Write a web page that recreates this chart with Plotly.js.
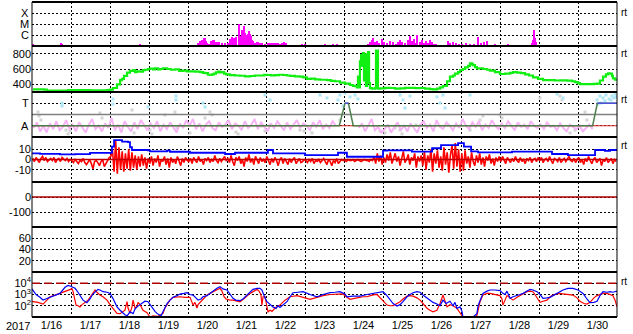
<!DOCTYPE html>
<html><head><meta charset="utf-8">
<script src="https://cdn.plot.ly/plotly-3.0.1.min.js"></script>
<style>html,body{margin:0;padding:0;background:#fff;}#chart{width:633px;height:334px;}</style>
</head><body><div id="chart"></div>
<script>
// time axis: hours since 2017-01-16 00:00 UT
const dayLabelsYear = '2017';

// X-ray flux (W/m2), bars
const xrayClassVals = [1e-6, 1e-5, 1e-4];
const xrayClassText = ['C', 'M', 'X'];
const xrayH = [0.6,17.8,18.5,66.5,102.2,103.4,104.6,105.2,105.8,106.5,107.1,107.7,108.9,110.2,111.4,112.0,113.2,113.8,114.5,115.1,116.9,118.8,120.6,121.8,123.1,124.3,125.5,127.4,128.0,128.6,129.2,129.8,130.5,131.1,131.7,132.3,132.9,133.5,134.2,134.8,135.4,136.0,137.2,138.5,139.1,140.3,141.5,143.4,145.2,146.5,147.7,149.0,150.2,151.4,152.6,153.8,155.1,156.3,166.2,168.0,180.3,185.2,187.7,206.8,208.0,209.2,209.8,211.1,212.3,213.5,215.4,216.6,218.5,220.3,222.2,224.0,225.2,226.5,227.7,229.5,231.4,232.6,233.8,235.1,236.3,236.9,238.8,240.0,241.2,242.5,243.7,244.9,246.2,247.4,248.6,256.0,257.2,259.1,260.9,262.8,264.6,267.1,269.5,272.0,274.5,276.3,278.2,280.0,284.9,292.9,307.7,308.3,308.9,309.5,310.2];
const xrayFlux = [1.3e-7,1.8e-7,1.5e-7,1.3e-7,1.9e-7,2.5e-7,3.6e-7,2.4e-7,5e-7,5.2e-7,2.9e-7,1.9e-7,1.5e-7,2.9e-7,3.1e-7,3.6e-7,2.4e-7,1.5e-7,2.4e-7,2.4e-7,1.8e-7,1.8e-7,1.8e-7,4.5e-7,5.9e-7,5.2e-7,6.9e-7,1.1e-5,4e-7,8.5e-7,3.1e-6,6e-7,7.2e-6,1.5e-6,6.9e-7,9e-7,1.3e-6,2.1e-6,1.2e-6,7.3e-7,3.6e-7,2.5e-7,1.9e-7,2.2e-7,2.0e-7,1.8e-7,1.8e-7,1.5e-7,1.8e-7,1.6e-7,1.6e-7,1.8e-7,1.8e-7,1.7e-7,1.5e-7,1.7e-7,2.4e-7,1.8e-7,1.3e-7,1.3e-7,1.3e-7,1.3e-7,1.3e-7,1.5e-7,2.4e-7,3.6e-7,5.2e-7,2.4e-7,2.9e-7,1.9e-7,4.2e-7,2.4e-7,1.8e-7,2.9e-7,2.4e-7,1.5e-7,2.4e-7,3.6e-7,2.1e-7,1.8e-7,3.6e-7,7.3e-7,2.9e-7,4.0e-7,1.9e-7,1.05e-6,2.4e-7,3.25e-7,1.9e-7,2.9e-7,1.9e-7,3.6e-7,2.4e-7,1.5e-7,1.4e-7,2.5e-7,1.9e-7,2.1e-7,1.8e-7,1.5e-7,1.5e-7,1.8e-7,1.5e-7,1.5e-7,6.4e-7,1.9e-7,2.0e-7,2.5e-7,1.44e-7,1.3e-7,1.9e-7,3.6e-7,3.1e-6,5.2e-7,2.4e-7];

// Solar wind speed (km/s)
const speedH = [0.6,4.9,7.4,9.2,14.2,21.5,22.2,29.5,35.7,41.8,46.2,48.0,49.8,52.3,54.2,55.4,56.6,58.5,60.3,62.2,63.4,64.6,66.5,68.3,69.5,71.4,72.6,74.5,75.7,77.5,78.8,80.6,83.1,85.5,88.0,90.5,92.9,95.4,97.2,100.3,103.4,105.2,106.5,108.3,109.5,110.8,112.0,113.2,114.5,115.7,116.9,118.2,119.4,121.8,124.9,128.0,131.1,134.2,137.2,140.3,142.8,144.6,147.1,149.5,152.0,154.5,156.9,158.8,161.8,164.9,166.8,169.2,171.7,174.2,177.2,181.5,184.0,186.5,189.5,192.6,195.7,197.5,198.8,200.0,200.6,201.2,201.8,202.5,203.1,203.7,204.3,204.9,205.5,206.2,206.8,207.4,208.0,209.2,211.1,211.7,212.3,212.9,214.2,217.2,220.3,223.4,226.5,229.5,232.6,235.7,238.8,241.8,244.9,246.8,249.2,251.1,252.9,255.4,257.2,259.1,260.3,262.2,263.4,265.2,266.5,268.3,269.5,270.8,271.4,272.6,273.8,275.7,277.5,280.0,281.8,284.9,288.0,291.1,294.2,296.0,298.5,300.9,303.4,305.8,308.3,311.4,314.5,317.5,321.8,324.9,329.2,332.3,334.2,336.0,337.2,340.3,343.4,345.8,347.7,349.5,351.4,353.2,354.5,355.7,356.9,357.5,358.8,360.0];
const speedV = [335,335,330,317,318,318,326,324,322,320,326,330,352,400,456,470,510,552,575,587,560,570,565,585,590,600,604,595,610,595,600,610,600,590,595,575,578,570,570,565,560,550,545,525,522,530,540,555,565,555,560,540,530,520,515,512,505,509,515,515,525,522,518,520,525,522,515,510,505,500,490,470,475,465,460,456,445,440,422,410,391,380,375,360,500,360,700,780,640,809,450,790,380,760,820,420,350,345,350,839,839,345,348,355,352,345,348,355,355,350,352,345,338,335,345,360,378,440,500,515,540,560,587,600,620,640,674,660,650,625,609,610,600,590,578,560,535,540,550,560,552,545,530,515,491,470,456,455,450,452,448,440,430,415,404,402,404,406,410,450,500,530,544,540,510,478,460,448];

// IMF sector panel (T = 1, A = -1)
const sectorVals = [1, -1];
const sectorText = ['T', 'A'];
const polH = [0,189.1,192.6,194.7,197.7,345.0,347.9,360];
const polV = [-1,-1,1,1,-1,-1,1,1];
// IMF angle points in away sector, every 2 h
const angleAway = [
 -1.2,-0.7,-1.5,-1.0,-1.6,-0.8,-1.3,-0.6,-1.4,-1.1,-0.5,-1.3,
 -0.9,-1.5,-0.7,-1.2,-1.6,-0.9,-0.4,-1.3,-1.0,-1.5,-0.8,-1.2,
 -0.3,-1.4,-0.9,-1.6,-0.6,-1.1,-1.5,-0.7,-1.3,-0.5,-1.0,-1.4,
 -0.8,-1.2,-0.6,-1.5,-0.9,-1.3,-0.7,-1.1,-1.6,-0.8,-1.2,-0.5,
 -1.0,-0.4,-1.3,-0.8,-1.5,-0.9,-0.6,-1.2,-1.4,-0.7,-1.1,-0.9,
 -0.5,-1.3,-0.8,-1.0,-1.4,-0.6,-1.2,-0.9,-0.4,-1.3,-0.7,-1.1,
 -1.5,-0.8,-1.2,-0.6,-1.0,-1.4,-0.7,-1.3,-0.9,-0.5,-1.2,-0.8,
 -1.0,-1.4,-0.7,-1.1,-0.5,-1.3,-0.9,-1.2,-0.6,-1.0,null,null,
 null,null,null,null,-1.2,-0.8,-1.5,-1.0,-0.4,-1.4,-1.1,-1.6,
 -1.3,-0.9,-1.6,-1.1,-0.7,-1.4,-1.0,-1.5,-0.8,-1.2,-1.6,-0.9,
 -0.6,-1.2,-0.9,-1.5,-0.5,-1.1,-1.3,-0.7,-1.0,-1.4,-0.8,-1.2,
 -0.4,-1.0,-1.3,-0.7,-1.1,-0.6,-1.4,-0.9,-1.2,-0.5,-1.0,-1.3,
 -0.8,-1.2,-0.6,-1.0,-1.4,-0.7,-1.1,-0.9,-1.3,-0.6,-1.0,-1.2,
 -0.9,-1.3,-0.7,-1.1,-1.0,-1.4,-0.8,-1.2,-1.5,-0.9,-1.1,-1.3,
 -1.0,-1.5,-1.2,-0.9,-1.3,null,null,null,null,null,null,null];
const grayH = [3.7,4.3,5.5,20.9,22.2,23.4,41.8,43.1,61.5,62.8,72.6,73.8,81.8,88.0,89.2,97.2,106.5,109.5,110.8,121.8,125.5,126.8,141.5,143.4,146.5,164.9,167.4,172.3,189.5,214.2,217.2,223.4,226.5,227.7,236.3,269.5,275.7,277.5,288.0,289.2,312.6,324.9,326.2,331.1,334.2,340.3,341.5];
const grayV = [0.22,-0.13,-0.49,-1.38,-1.73,-1.47,0.13,-0.31,0.4,-1.64,-1.38,-1.73,-0.04,0.22,-1.2,-1.64,-0.31,0.22,-0.04,-0.93,-1.56,-1.73,-1.02,-1.47,-0.93,-1.38,-1.47,-1.64,-0.49,-1.47,-1.64,-1.2,-1.38,-1.73,-0.93,-1.38,-0.49,-0.13,-0.04,-0.31,1.47,1.64,1.29,-1.64,-1.38,0.22,-0.49];
const towardH = [18.5,18.5,49.8,49.8,71.4,88.6,88.6,105.2,106.5,143.4,146.5,177.2,181.5,188.3,189.5,191.4,192.6,195.7,198.8,200.6,226.5,228.3,229.5,232.6,249.2,251.1,252.9,254.2,269.5,323.1,326.8,347.7,348.3,349.5,350.2,351.4,352.6,353.2,355.1,356.3,356.9,358.2,358.8,359.4];
const towardV = [1.02,0.76,1.38,0.93,0.67,1.64,1.29,1.02,0.67,1.73,1.29,1.73,1.47,1.29,1.73,0.76,1.91,1.56,1.73,1.38,1.73,1.29,0.58,1.64,1.56,1.02,1.73,0.58,1.73,1.82,1.47,1.29,0.93,1.64,1.02,1.47,1.2,1.73,1.38,1.29,1.64,1.47,1.82,1.56];

// IMF Bz hourly (nT)
const bz = [
 1,-2,2,0,-3,1,3,-1,2,-2,0,1,-1,2,-3,0,1,-2,2,0,-1,1,-2,0,
 -1,-3,0,-2,-4,-1,-2,1,-3,-5,-2,0,-4,-9,-2,-1,-3,-6,-2,0,-7,-3,-1,2,
 3,10,-12,18,-14,12,-10,8,-12,6,-9,10,-11,7,-8,4,-10,3,-7,5,-6,2,-9,1,
 -4,3,-6,1,-3,4,-7,0,-2,3,-5,1,-8,2,-3,0,-4,3,-2,-6,1,-3,2,-1,
 -2,1,-4,2,-1,-3,3,-2,0,-5,1,-1,2,-3,0,-2,4,-1,-3,1,-2,0,3,-1,
 1,-3,4,-2,-6,2,-1,3,-4,0,-7,2,-2,5,-3,1,-5,3,-1,-4,2,-2,0,-3,
 3,-2,-5,1,-3,2,-1,-6,0,2,-4,1,-2,-5,1,-3,0,2,-4,-1,1,-3,-2,0,
 -1,-3,0,-2,1,-4,-1,-2,0,-3,-1,1,-2,-5,0,-2,-6,-1,-3,1,-4,-2,0,-1,
 -1,-2,0,-1,-1,0,-2,-1,0,-1,-2,-1,0,-1,-1,-2,0,-1,3,-4,6,-2,4,-5,
 2,-3,5,-1,7,-4,1,6,-2,3,-6,2,8,-3,0,5,-5,2,-1,6,-8,3,-2,4,
 -6,8,-10,4,-3,10,-12,6,-4,9,-8,3,-11,12,-5,7,-13,4,14,-9,16,-7,10,-12,
 6,-11,9,-4,3,-8,7,-2,-6,4,-3,6,-5,2,-7,3,-1,5,-4,1,-6,2,-2,3,
 -2,3,-1,-4,2,0,-3,1,-2,3,-1,-3,2,-2,0,-4,1,-1,2,-3,0,1,-2,2,
 -1,2,-3,0,1,-2,3,-1,-4,1,0,-2,2,-3,-1,1,-2,0,3,-1,-2,1,-3,0,
 2,-3,0,-5,1,-2,3,-1,-4,0,2,-3,-1,1,-6,0,-2,2,-3,-1,1,-4,0,-2];
// IMF Bt (nT)
const btH = [0,4.9,17.2,26.5,35.7,48.0,49.2,50.5,52.9,55.4,59.1,60.3,61.5,71.4,72.6,83.1,84.9,95.4,97.2,115.7,118.8,123.7,124.9,144.0,145.2,147.7,148.3,166.8,168.0,187.7,188.3,191.4,193.8,215.4,216.0,218.5,232.6,233.8,244.9,246.2,251.1,251.7,261.5,262.2,265.2,265.8,269.5,270.2,273.8,274.5,294.2,295.4,318.8,320.0,329.2,329.8,345.2,346.5,352.6,355.7,360];
const btV = [6,5.5,5,5.2,6.5,6.5,12.6,19,19,17.5,17,12,9.3,9,8,8.7,7.6,7.6,6.6,6.6,5.4,5.4,6.6,6.6,9.3,9.3,6,6,4.2,4.2,6.6,6.6,2.7,2.7,8.6,9,9,7.7,7.7,11,11,14,14,16,16,12.5,12.5,8,8,7,7,7.7,7.7,5.4,5.4,4.3,4.3,9.3,8.5,9.3,8.8];

// Electron flux, log10 values
const eBlueH = [0,0.6,2.5,4.9,6.8,9.2,11.1,14.2,17.2,20.3,22.2,23.4,25.2,26.5,28.3,29.5,31.4,33.8,35.7,37.5,39.4,40.6,41.8,43.7,46.2,48.0,49.8,51.1,52.3,54.2,55.4,57.2,58.5,60.3,62.2,63.4,64.6,66.5,68.3,69.5,71.4,72.6,74.5,75.7,76.9,78.8,79.4,80.6,81.8,83.1,84.9,86.8,89.2,91.1,93.5,95.4,97.2,99.1,100.9,102.2,104.0,105.2,107.7,109.5,111.4,113.8,115.7,117.5,120.0,121.8,123.7,125.5,128.0,129.8,132.3,134.2,136.0,138.5,140.3,141.5,142.2,143.4,144.6,146.5,148.3,150.2,151.4,152.6,154.5,156.9,158.8,160.6,163.7,166.8,171.1,175.4,179.1,183.4,186.5,189.5,192.6,193.8,197.5,201.8,206.2,209.8,212.9,216.0,217.8,220.3,222.2,224.6,226.5,228.3,230.8,232.6,234.5,236.9,238.8,240.6,243.1,244.9,246.8,249.2,251.1,252.9,254.8,257.2,259.1,260.3,261.5,263.4,264.6,265.2,268.0,271.4,272.6,273.8,274.5,275.7,277.5,280.0,281.8,284.9,288.0,289.8,291.1,292.3,294.2,296.0,298.5,300.3,302.2,304.6,306.5,308.3,310.8,312.6,314.5,316.9,318.8,320.6,323.1,324.9,326.8,329.8,332.9,336.0,339.1,341.5,343.4,345.8,347.7,349.5,351.4,353.8,355.7,357.5,360.0];
const eBlueLog = [3.5,3.4,3.0,2.75,2.51,2.65,2.75,2.9,3.1,3.64,3.8,3.76,3.65,3.55,3.2,2.95,2.5,2.27,2.6,3.04,3.3,3.46,3.4,3.25,3.2,3.1,2.66,2.3,1.9,1.6,1.4,1.2,1.1,1.46,1.3,1.7,1.9,2.1,2.27,2.4,2.36,2.1,1.77,1.5,1.32,1.2,1.1,1.46,1.9,2.2,2.5,2.75,2.9,3.04,3.1,3.16,3.0,2.95,2.7,2.5,2.6,2.8,2.9,3.1,3.3,3.55,3.7,3.5,3.4,3.0,2.66,2.5,2.45,2.6,2.95,3.2,3.46,3.55,3.55,3.4,3.1,2.7,2.36,2.1,1.9,1.75,2.0,1.85,2.1,2.36,2.8,3.16,3.2,3.25,3.0,2.8,3.0,3.16,3.2,3.25,3.05,2.8,2.85,2.85,3.0,3.1,3.2,3.25,3.0,2.5,2.2,1.97,2.1,2.36,2.8,3.0,3.16,3.25,3.2,2.95,2.7,2.5,2.3,2.15,2.0,2.5,2.2,2.4,2.0,2.3,1.77,1.9,1.5,1.0,null,1.0,1.2,1.3,2.0,2.5,3.1,3.3,3.4,3.4,3.35,3.1,3.0,3.3,2.66,2.8,2.95,3.0,3.1,3.3,3.46,3.4,3.25,3.0,2.66,2.7,2.75,2.9,3.1,3.3,3.4,3.55,3.55,3.4,3.1,2.6,2.27,2.3,2.4,2.9,3.25,3.2,3.25,3.2,3.3];
const eRedH = [0,0.6,3.7,6.8,9.2,11.1,14.2,17.2,20.3,23.4,24.6,25.2,26.5,27.1,28.3,29.5,30.8,32.6,34.5,36.9,38.8,40.0,41.8,43.7,46.2,48.0,49.8,51.1,52.3,54.2,56.0,57.2,58.5,59.1,60.3,61.5,62.2,63.4,64.6,65.2,66.5,68.3,70.8,72.6,74.5,76.9,78.8,80.6,81.8,83.1,84.9,86.8,89.2,91.1,94.2,97.2,98.5,99.1,100.3,101.5,102.2,103.4,105.8,107.7,109.5,111.4,113.8,115.7,116.9,118.2,119.4,120.0,121.8,123.7,126.2,128.0,131.1,134.2,136.6,138.5,139.7,140.9,141.5,142.2,143.4,144.6,145.2,146.5,147.7,149.5,152.6,155.7,158.8,163.1,166.8,171.1,175.4,179.1,183.4,187.7,191.4,193.8,195.7,200.0,203.7,206.2,209.2,212.3,214.2,216.0,217.2,218.5,220.3,222.2,224.6,226.5,228.3,230.8,232.6,234.5,236.9,238.8,240.6,243.1,244.9,246.8,249.2,251.1,252.9,254.2,255.4,257.2,259.1,261.5,263.4,264.6,265.2,269.0,273.2,273.8,274.5,275.7,277.5,280.0,281.8,284.9,288.0,289.2,289.8,291.1,292.3,294.2,296.0,298.5,300.3,302.2,304.6,306.5,308.3,309.5,310.8,312.6,314.5,316.9,318.8,320.6,323.1,324.9,326.8,329.2,331.1,332.9,335.4,337.2,339.7,341.5,343.4,345.8,347.7,349.5,351.4,353.8,355.7,357.5,358.8,360.0];
const eRedLog = [2.4,2.36,2.3,2.15,2.5,2.8,2.95,3.1,3.3,3.46,3.5,3.3,2.6,2.06,2.0,1.9,2.1,2.27,2.5,3.0,3.4,3.2,2.95,2.8,2.5,2.1,1.77,1.5,1.32,1.3,1.46,1.6,2.36,1.8,1.32,1.9,2.5,1.8,1.9,2.3,2.1,1.6,1.38,1.0,1.1,1.05,1.15,1.32,1.8,2.15,2.5,2.75,2.8,2.8,2.75,2.75,2.3,2.06,2.3,1.8,2.1,2.3,2.7,2.95,3.1,3.25,3.4,3.55,3.3,2.8,2.6,2.57,2.5,2.5,2.4,2.35,2.7,3.1,3.3,3.46,3.3,3.0,2.06,2.8,2.8,2.0,1.46,1.6,1.5,1.8,2.06,2.5,2.8,2.9,2.75,2.57,2.75,2.9,3.0,3.0,3.05,2.75,2.57,2.7,2.8,2.8,2.95,3.0,2.7,2.45,2.2,2.06,2.0,2.0,2.2,2.36,2.6,2.87,2.9,2.85,2.7,2.5,2.2,1.77,1.6,1.46,1.6,2.2,2.95,2.4,1.9,2.1,2.0,1.77,1.32,1.1,1.0,null,1.0,1.15,1.6,2.36,2.95,3.1,3.1,3.0,2.9,2.6,2.06,2.5,2.9,2.7,2.5,2.75,2.9,3.1,3.25,3.3,3.25,3.0,2.7,2.3,2.4,2.5,2.8,2.95,3.05,3.1,3.05,3.0,2.95,2.95,2.7,2.4,2.2,2.15,2.3,2.7,2.9,3.0,3.1,3.1,3.0,2.9,2.5,1.9];

const START = Date.UTC(2017,0,16);
function t(h){ const d = new Date(START + Math.round(h*3600000)); return d.toISOString().slice(0,19).replace('T',' '); }
const T = a => a.map(t);
const pow10 = a => a.map(v => v === null ? null : Math.pow(10, v));
const ends = [t(0), t(360)];

const traces = [];
// panel 1: X-ray
traces.push({type:'bar', x:T(xrayH), y:xrayFlux, base:1e-8, width:3600000*1.1, marker:{color:'#ff00ff', line:{width:0}}, xaxis:'x', yaxis:'y'});
// panel 2: speed
traces.push({type:'scatter', mode:'lines', x:T(speedH), y:speedV, line:{color:'#11ee11', width:2.2, shape:'hv'}, xaxis:'x2', yaxis:'y2'});
// panel 3: sector
traces.push({type:'scatter', mode:'markers', x:T(grayH), y:grayV, marker:{color:'#d4d4d4', size:3, symbol:'square'}, xaxis:'x3', yaxis:'y3'});
traces.push({type:'scatter', mode:'lines', x:angleAway.map((v,i)=>t(2*i+1)), y:angleAway, line:{color:'#f6b4f6', width:2}, connectgaps:false, xaxis:'x3', yaxis:'y3'});
traces.push({type:'scatter', mode:'markers', x:T(towardH), y:towardV, marker:{color:'#aee6f6', size:3, symbol:'square'}, xaxis:'x3', yaxis:'y3'});
traces.push({type:'scatter', mode:'lines', x:ends, y:[0,0], line:{color:'#808080', width:1.5}, xaxis:'x3', yaxis:'y3'});
traces.push({type:'scatter', mode:'lines', x:ends, y:[-1,-1], line:{color:'#e02828', width:1}, xaxis:'x3', yaxis:'y3'});
traces.push({type:'scatter', mode:'lines', x:T(polH), y:polV, line:{color:'#4e804e', width:1.5}, xaxis:'x3', yaxis:'y3'});
traces.push({type:'scatter', mode:'lines', x:T(polH), y:polV.map(v => v === 1 ? v : null), line:{color:'#5050e0', width:1.5}, xaxis:'x3', yaxis:'y3'});
// panel 4: Bz, Bt
traces.push({type:'scatter', mode:'lines', x:bz.map((v,i)=>t(i+0.5)), y:bz, line:{color:'#ff0000', width:1.6}, xaxis:'x4', yaxis:'y4'});
traces.push({type:'scatter', mode:'lines', x:T(btH), y:btV, line:{color:'#0000ff', width:1.8, shape:'hv'}, xaxis:'x4', yaxis:'y4'});
traces.push({type:'scatter', mode:'lines', x:ends, y:[0,0], line:{color:'#c00000', width:1.5}, xaxis:'x4', yaxis:'y4'});
// panel 5: Dst reference
traces.push({type:'scatter', mode:'lines', x:ends, y:[0,0], line:{color:'#b00000', width:1.5}, xaxis:'x5', yaxis:'y5'});
// panel 6: empty
traces.push({type:'scatter', mode:'lines', x:[t(0)], y:[null], xaxis:'x6', yaxis:'y6'});
// panel 7: electrons
traces.push({type:'scatter', mode:'lines', x:ends, y:[1e4,1e4], line:{color:'#b00000', width:1.5, dash:'8px,4px'}, xaxis:'x7', yaxis:'y7'});
traces.push({type:'scatter', mode:'lines', x:T(eRedH), y:pow10(eRedLog), line:{color:'#ff0000', width:1.2}, xaxis:'x7', yaxis:'y7'});
traces.push({type:'scatter', mode:'lines', x:T(eBlueH), y:pow10(eBlueLog), line:{color:'#0000ff', width:1.2}, xaxis:'x7', yaxis:'y7'});

const FONT = 'Liberation Sans, Arial, sans-serif';
const GRID_DASH = '1.5px,2.5px';
const bounds = [0,45,90,135,180,225,271,315].map(v => v/315);
const yCfg = {
 1:{type:'log', range:[-7,-3], tickvals:xrayClassVals, showticklabels:false},
 2:{range:[300,900], tickvals:[400,600,800], ticktext:['400','600','800']},
 3:{range:[-2,2], tickvals:sectorVals, showticklabels:false},
 4:{range:[-22,22], tickvals:[10,0,-10], ticktext:['10','0','-10']},
 5:{range:[-200,100], tickvals:[0,-100], ticktext:['0','-100']},
 6:{range:[0,80], tickvals:[20,40,60], ticktext:['20','40','60']},
 7:{type:'log', range:[1,5], tickvals:[100,1000,10000], ticktext:['10<sup>2</sup>','10<sup>3</sup>','10<sup>4</sup>']}
};
const layout = {
 width:633, height:334, margin:{l:32, r:16, t:2, b:17},
 paper_bgcolor:'#fff', plot_bgcolor:'rgba(0,0,0,0)', showlegend:false, hovermode:false,
 font:{family:FONT, size:11, color:'#000'}, bargap:0,
 shapes:[], annotations:[]
};
for (let p = 1; p <= 7; p++) {
 const s = p === 1 ? '' : String(p);
 layout['xaxis'+s] = {
  type:'date', range:ends, anchor:'y'+s, domain:[0,1],
  showgrid:true, gridcolor:'#000000', gridwidth:1, griddash:GRID_DASH,
  tick0:'2017-01-16', dtick:86400000, ticks:'', zeroline:false, showline:false,
  showticklabels:p === 7, tickformat:'%-m/%-d', ticklabelmode:'period',
  tickfont:{family:FONT, size:11, color:'#000'}, fixedrange:true
 };
 if (p > 1) layout['xaxis'+s].matches = 'x';
 layout['yaxis'+s] = Object.assign({
  anchor:'x'+s, domain:[bounds[7-p], bounds[8-p]],
  showgrid:true, gridcolor:'#000000', gridwidth:1, griddash:GRID_DASH,
  ticks:'', zeroline:false, showline:false, tickmode:'array',
  tickfont:{family:FONT, size:11, color:'#000'}, fixedrange:true
 }, yCfg[p]);
}
// letter labels for the X-ray class and sector panels (right-aligned at the axis)
xrayClassVals.forEach((v,i) => layout.annotations.push({xref:'paper', yref:'y', x:0, y:Math.log10(v), xanchor:'right', yanchor:'middle', xshift:-1, text:xrayClassText[i], showarrow:false, font:{family:FONT, size:11, color:'#000'}}));
sectorVals.forEach((v,i) => layout.annotations.push({xref:'paper', yref:'y3', x:0, y:v, xanchor:'right', yanchor:'middle', xshift:-1, text:sectorText[i], showarrow:false, font:{family:FONT, size:11, color:'#000'}}));
// panel frames
bounds.forEach(b => layout.shapes.push({type:'line', xref:'paper', yref:'paper', x0:0, x1:1, y0:b, y1:b, line:{color:'#000', width:2}, layer:'above'}));
[0,1].forEach(x => layout.shapes.push({type:'line', xref:'paper', yref:'paper', x0:x, x1:x, y0:0, y1:1, line:{color:'#000', width:1}, layer:'above'}));
// 'rt' markers
[0.967,0.837,0.689,0.544,0.114].forEach(y => layout.annotations.push({xref:'paper', yref:'paper', x:1, y:y, xanchor:'left', yanchor:'middle', xshift:2, text:'rt', showarrow:false, font:{family:FONT, size:10, color:'#000'}}));
layout.annotations.push({xref:'paper', yref:'paper', x:0, y:0, xanchor:'right', yanchor:'top', xshift:0, yshift:-1, text:dayLabelsYear, showarrow:false, font:{family:FONT, size:11, color:'#000'}});

Plotly.newPlot('chart', traces, layout, {staticPlot:true, displayModeBar:false});
</script></body></html>
